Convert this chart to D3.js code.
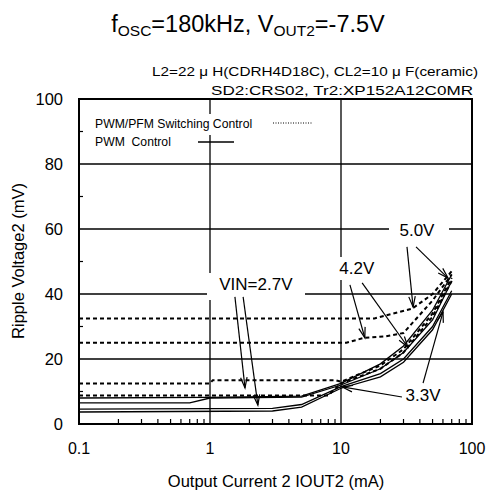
<!DOCTYPE html>
<html>
<head>
<meta charset="utf-8">
<script src="https://cdn.jsdelivr.net/npm/d3@7"></script>
<style>
  body { margin: 0; background: #fff; }
  svg { font-family: "Liberation Sans", Arial, sans-serif; }
</style>
</head>
<body>
<svg id="chart" width="488" height="495"></svg>
<script>
// Ripple voltage vs output current, PWM and PWM/PFM control, four input voltages.

// x: output current (mA), y: ripple voltage (mV)
const xTicks = [0.1, 1, 10, 100];
const yTicks = [0, 20, 40, 60, 80, 100];
const yMinor = [10, 30, 50, 70, 90];

// PWM control (solid)
const pwm50 = [[0.1, 8.0], [1, 8.2], [5, 8.6], [10, 12.5], [20, 18.5], [30, 24], [50, 35], [70, 46]];
const pwm42 = [[0.1, 6.5], [0.7, 6.5], [1, 8], [5, 8.3], [10, 12], [20, 17], [30, 22], [50, 32], [70, 44]];
const pwm33 = [[0.1, 4.6], [3, 4.8], [5, 6], [10, 11.5], [20, 15.5], [30, 20], [50, 30], [70, 41]];
const pwm27 = [[0.1, 3.7], [3, 4], [5, 5.2], [10, 11], [20, 14.5], [30, 19], [50, 29], [70, 40]];

// PWM/PFM switching control (dotted)
const pfm50 = [[0.1, 32.5], [18, 32.5], [25, 34], [35, 35.5], [50, 40], [70, 47]];
const pfm42 = [[0.1, 25], [11, 25], [15, 26.5], [22, 27], [30, 28], [50, 38], [70, 46]];
const pfm33 = [[0.1, 12.5], [1, 12.5], [1.05, 13.5], [9, 13.5], [10, 13], [20, 18], [30, 23], [50, 34], [70, 45]];
const pfm27 = [[0.1, 8.8], [8, 8.8], [10, 12.5], [20, 17], [30, 22], [50, 33], [70, 44]];

// annotations: label, label position, arrows [from, to] in data units
const notes = [
  { text: "VIN=2.7V", at: [2.24, 43.1], box: [207, 273, 98, 27],
    arrows: [[[1.55, 39.1], [1.85, 11.1]], [[1.79, 39.1], [2.32, 5.8]]] },
  { text: "4.2V", at: [13.2, 48], box: [335, 257, 44, 23],
    arrows: [[[11.7, 42.8], [15.2, 26.5]], [[14.5, 43.4], [32.4, 23.7]]] },
  { text: "5.0V", at: [38, 59.7], box: [389, 218, 60, 24],
    arrows: [[[31.9, 54.5], [35.5, 36]], [[37.4, 54.5], [65.6, 44.9]]] },
  { text: "3.3V", at: [42.3, 8.9], box: [402, 383, 44, 24],
    arrows: [[[29.2, 8.3], [10.2, 11.4]], [[42.3, 12.6], [60.1, 34.5]]] }
];

const svg = d3.select("#chart");
const x = d3.scaleLog().domain([0.1, 100]).range([79, 472]);
const y = d3.scaleLinear().domain([0, 100]).range([424, 99]);

// title
const title = svg.append("text").attr("x", 248).attr("y", 32)
  .attr("text-anchor", "middle").attr("font-size", 23.5);
title.append("tspan").text("f");
title.append("tspan").text("OSC").attr("font-size", 15.5).attr("dy", 4);
title.append("tspan").text("=180kHz, V").attr("dy", -4);
title.append("tspan").text("OUT2").attr("font-size", 15.5).attr("dy", 4);
title.append("tspan").text("=-7.5V").attr("dy", -4);

svg.append("text").attr("x", 152).attr("y", 76)
  .attr("font-size", 13).attr("textLength", 326).attr("lengthAdjust", "spacingAndGlyphs")
  .text("L2=22 \u03bc H(CDRH4D18C), CL2=10 \u03bc F(ceramic)");
svg.append("text").attr("x", 211).attr("y", 95)
  .attr("font-size", 13).attr("textLength", 262).attr("lengthAdjust", "spacingAndGlyphs")
  .text("SD2:CRS02, Tr2:XP152A12C0MR");

// grid
const grid = svg.append("g").attr("stroke", "#000").attr("stroke-width", 1.3);
grid.selectAll("line.v").data([1, 10]).join("line")
  .attr("x1", d => x(d)).attr("x2", d => x(d)).attr("y1", y(100)).attr("y2", y(0));
grid.selectAll("line.h").data([20, 40, 60, 80]).join("line")
  .attr("y1", d => y(d)).attr("y2", d => y(d)).attr("x1", x(0.1)).attr("x2", x(100));

// minor ticks
const xMinor = [];
[0.1, 1, 10].forEach(dec => { for (let k = 2; k <= 9; k++) xMinor.push(dec * k); });
svg.append("g").attr("stroke", "#000").attr("stroke-width", 1.2)
  .selectAll("line").data(xMinor).join("line")
  .attr("x1", d => x(d)).attr("x2", d => x(d)).attr("y1", y(0)).attr("y2", y(0) - 5);
svg.append("g").attr("stroke", "#000").attr("stroke-width", 1.2)
  .selectAll("line").data(yMinor).join("line")
  .attr("x1", x(0.1)).attr("x2", x(0.1) + 4).attr("y1", d => y(d)).attr("y2", d => y(d));

// white boxes behind the labels (they break the grid)
svg.append("rect").attr("x", 92).attr("y", 114).attr("width", 228).attr("height", 21).attr("fill", "#fff");
notes.forEach(n => {
  svg.append("rect").attr("x", n.box[0]).attr("y", n.box[1])
    .attr("width", n.box[2]).attr("height", n.box[3]).attr("fill", "#fff");
});

// curves
const line = d3.line().x(d => x(d[0])).y(d => y(d[1]));
svg.append("g").attr("fill", "none").attr("stroke", "#000").attr("stroke-width", 1.3)
  .selectAll("path").data([pwm50, pwm42, pwm33, pwm27]).join("path").attr("d", line);
svg.append("g").attr("fill", "none").attr("stroke", "#000").attr("stroke-width", 2)
  .attr("stroke-dasharray", "4,3")
  .selectAll("path").data([pfm50, pfm42, pfm33, pfm27]).join("path").attr("d", line);

// frame
svg.append("rect").attr("x", x(0.1)).attr("y", y(100))
  .attr("width", x(100) - x(0.1)).attr("height", y(0) - y(100))
  .attr("fill", "none").attr("stroke", "#000").attr("stroke-width", 2);

// axis labels
svg.append("g").selectAll("text").data(yTicks).join("text")
  .attr("x", 63).attr("y", d => y(d) + 6).attr("text-anchor", "end")
  .attr("font-size", 16.5).text(d => d);
svg.append("g").selectAll("text").data(xTicks).join("text")
  .attr("x", d => x(d)).attr("y", 454).attr("text-anchor", "middle")
  .attr("font-size", 16).text(d => d);
svg.append("text").attr("x", 276).attr("y", 487).attr("text-anchor", "middle")
  .attr("font-size", 16.5).text("Output Current 2 IOUT2 (mA)");
svg.append("text").attr("transform", "translate(24,261) rotate(-90)")
  .attr("text-anchor", "middle").attr("font-size", 16.5).text("Ripple Voltage2 (mV)");

// legend
svg.append("text").attr("x", 95).attr("y", 128).attr("font-size", 12.2)
  .text("PWM/PFM Switching Control");
svg.append("text").attr("x", 95).attr("y", 146).attr("font-size", 12.2)
  .attr("xml:space", "preserve").text("PWM  Control");
svg.append("line").attr("x1", 273).attr("x2", 313).attr("y1", 123).attr("y2", 123)
  .attr("stroke", "#000").attr("stroke-width", 1).attr("stroke-dasharray", "1,1.5");
svg.append("line").attr("x1", 198).attr("x2", 234).attr("y1", 142).attr("y2", 142)
  .attr("stroke", "#000").attr("stroke-width", 1.3);

// annotation arrows and labels
function arrow(g, p0, p1) {
  const x0 = x(p0[0]), y0 = y(p0[1]), x1 = x(p1[0]), y1 = y(p1[1]);
  const a = Math.atan2(y1 - y0, x1 - x0), L = 11, w = 0.3;
  g.append("line").attr("x1", x0).attr("y1", y0).attr("x2", x1).attr("y2", y1);
  g.append("path").attr("d",
    `M${x1 - L * Math.cos(a - w)},${y1 - L * Math.sin(a - w)}L${x1},${y1}L${x1 - L * Math.cos(a + w)},${y1 - L * Math.sin(a + w)}`);
}
const ann = svg.append("g").attr("stroke", "#000").attr("stroke-width", 1.2).attr("fill", "none");
notes.forEach(n => {
  n.arrows.forEach(a => arrow(ann, a[0], a[1]));
  svg.append("text").attr("x", x(n.at[0])).attr("y", y(n.at[1]) + 6)
    .attr("text-anchor", "middle").attr("font-size", 17).text(n.text);
});
</script>
</body>
</html>
